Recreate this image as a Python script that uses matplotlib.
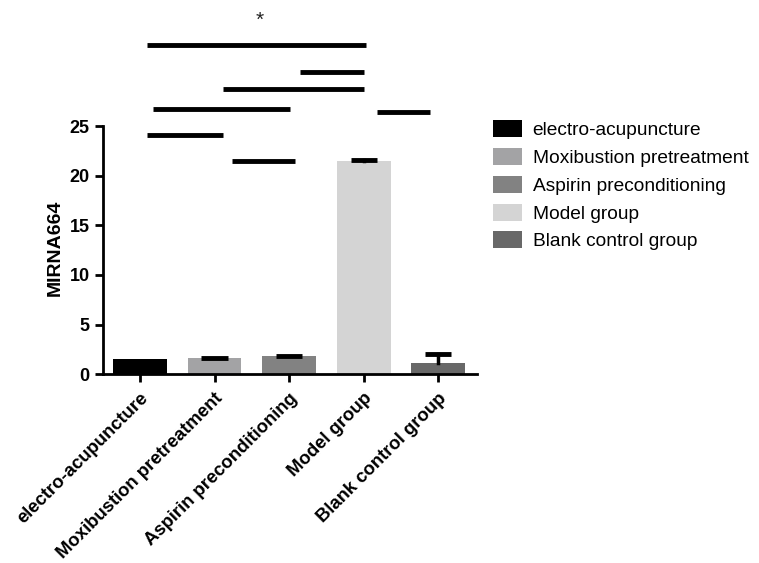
import matplotlib
matplotlib.use("Agg")
import matplotlib.pyplot as plt
from matplotlib.patches import Patch

plt.rcParams['font.family'] = ['Liberation Sans', 'DejaVu Sans']

categories = ["electro-acupuncture", "Moxibustion pretreatment", "Aspirin preconditioning",
              "Model group", "Blank control group"]
values = [1.5, 1.6, 1.8, 21.5, 1.1]
errors = [0.0, 0.05, 0.05, 0.05, 0.95]
colors = ["#000000", "#a3a3a5", "#828282", "#d4d4d4", "#686868"]

# significance lines: (x_start, x_end, y)
sig_lines = [
    (0.09, 3.03, 33.2),
    (2.15, 3.0, 30.4),
    (1.12, 3.0, 28.7),
    (0.18, 2.01, 26.7),
    (3.18, 3.89, 26.45),
    (0.10, 1.12, 24.1),
    (1.23, 2.08, 21.5),
]
star = (1.61, 35.6, "*")
yticks = [0, 5, 10, 15, 20, 25]

fig = plt.figure(figsize=(7.59, 5.63), dpi=100)
ax = fig.add_axes([102.7/759, 1-374.3/563, (477-102.7)/759, 374.3/563])
x = list(range(len(categories)))
ax.bar(x, values, width=0.72, color=colors, zorder=2)
cap_half = 0.175
for xi, v, e in zip(x, values, errors):
    if e > 0:
        top = v + e
        ax.plot([xi, xi], [v, top], color='black', lw=2.5, zorder=3)
        ax.plot([xi - cap_half, xi + cap_half], [top, top], color='black', lw=3.5,
                solid_capstyle='butt', zorder=3)

for x0, x1, y in sig_lines:
    ax.plot([x0, x1], [y, y], color='black', lw=3.5, solid_capstyle='butt', clip_on=False, zorder=4)
ax.text(star[0], star[1], star[2], ha='center', va='center', fontsize=15, color='#222222')

ax.set_xlim(-0.5, 4.52)
ax.set_ylim(0, 37.69)
ax.spines['top'].set_visible(False)
ax.spines['right'].set_visible(False)
ax.spines['left'].set_bounds(0, 25)
ax.spines['left'].set_linewidth(2)
ax.spines['bottom'].set_linewidth(2)
ax.set_yticks(yticks)
ax.set_yticklabels([str(t) for t in yticks], fontsize=13, fontweight='bold')
ax.set_xticks(x)
ax.set_xticklabels(categories, rotation=45, ha='right', va='top', rotation_mode='anchor',
                   fontsize=13.3, fontweight='bold')
ax.tick_params(axis='both', width=2, length=6)
ax.tick_params(axis='x', pad=5)
ax.set_ylabel("MIRNA664", fontsize=14, fontweight='bold')
ax.yaxis.set_label_coords(-0.103, (374.3 - 248) / 374.3)

handles = [Patch(facecolor=c, edgecolor='none') for c in colors]
fig.legend(handles, categories, loc='upper left', bbox_to_anchor=(476/759, 1-103/563),
           frameon=False, fontsize=13.8, handlelength=1.5, handleheight=1.0,
           labelspacing=0.45, handletextpad=0.55)

fig.savefig("out.png", dpi=100)
